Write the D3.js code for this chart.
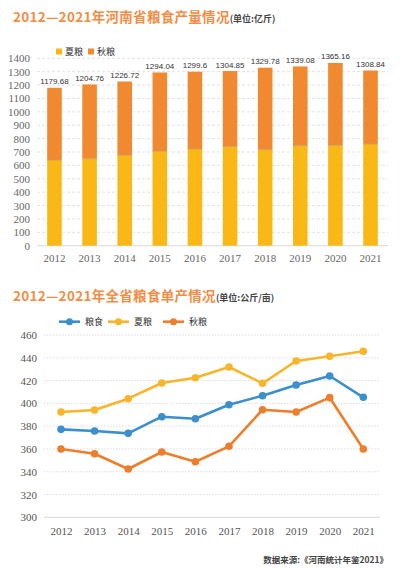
<!DOCTYPE html>
<html>
<head>
<meta charset="utf-8">
<script src="https://cdn.jsdelivr.net/npm/d3@7"></script>
<style>
  body { margin: 0; background: #fff; }
  svg { display: block; }
</style>
</head>
<body>
<svg id="chart" width="400" height="570"></svg>
<script>
// data
const years = ['2012', '2013', '2014', '2015', '2016', '2017', '2018', '2019', '2020', '2021'];
const totalOutput = [1179.68, 1204.76, 1226.72, 1294.04, 1299.6, 1304.85, 1329.78, 1339.08, 1365.16, 1308.84];
const summerOutput = [640, 650, 675, 705, 722, 741, 717, 747, 750, 760];
const barTicks = [0, 100, 200, 300, 400, 500, 600, 700, 800, 900, 1000, 1100, 1200, 1300, 1400];

const grainYield = [377.2, 375.7, 373.7, 388.3, 386.5, 398.8, 406.7, 416.1, 424, 405.3];
const summerYield = [392.4, 394.2, 404.1, 417.9, 422.5, 431.9, 417.6, 437.2, 441.3, 445.7];
const autumnYield = [360, 355.8, 342.4, 357.3, 348.8, 362.3, 394.4, 392.4, 405, 360];
const lineTicks = [300, 320, 340, 360, 380, 400, 420, 440, 460];

const YELLOW = '#f9b816', ORANGE = '#f0892f', BLUE = '#3a8fcc';
const LINE_Y = '#f8b52a', LINE_O = '#ef7e2c';
const svg = d3.select('#chart');
const cjk = '"Noto Sans CJK SC", "Noto Sans", sans-serif';
const serif = '"Liberation Serif", "DejaVu Serif", serif';

function title(y, main, unit) {
    const t = svg.append('text').attr('x', 13).attr('y', y)
        .attr('font-family', cjk).attr('font-weight', 'bold');
    t.append('tspan').attr('fill', '#f28d45').attr('font-size', 13.5).attr('letter-spacing', 0.3).text(main);
    t.append('tspan').attr('fill', '#444').attr('font-size', 9).text(unit);
}

// ---- bar chart ----
title(22, '2012—2021年河南省粮食产量情况', '(单位:亿斤)');

const x1 = d3.scaleBand().domain(years).range([37, 388]).paddingInner(0.585).paddingOuter(0.29);
const y1 = d3.scaleLinear().domain([0, 1400]).range([245.7, 58.3]);

const g1 = svg.append('g');
g1.selectAll('line.grid').data(barTicks.slice(1)).join('line')
    .attr('x1', 37).attr('x2', 388)
    .attr('y1', d => y1(d)).attr('y2', d => y1(d))
    .attr('stroke', '#d9d9d9').attr('stroke-dasharray', '3,2').attr('stroke-width', 0.8);
g1.append('line').attr('x1', 37).attr('x2', 388).attr('y1', y1(0)).attr('y2', y1(0))
    .attr('stroke', '#d9d9d9').attr('stroke-width', 1);

const yAxis1 = d3.axisLeft(y1).tickValues(barTicks).tickFormat(d3.format('d')).tickSize(0).tickPadding(0);
g1.append('g').attr('transform', 'translate(30,0)').call(yAxis1)
    .attr('font-family', serif)
    .call(s => s.select('.domain').remove())
    .selectAll('text').attr('font-size', 11).attr('fill', '#666');

const xAxis1 = d3.axisBottom(x1).tickSize(0).tickPadding(0);
g1.append('g').attr('transform', 'translate(0,254)').call(xAxis1)
    .attr('font-family', serif)
    .call(s => s.select('.domain').remove())
    .selectAll('text').attr('font-size', 11).attr('fill', '#666');

const bars = g1.selectAll('g.bar').data(years).join('g').attr('class', 'bar');
bars.append('rect')
    .attr('x', d => x1(d)).attr('width', x1.bandwidth())
    .attr('y', (d, i) => y1(summerOutput[i]))
    .attr('height', (d, i) => y1(0) - y1(summerOutput[i]))
    .attr('fill', YELLOW);
bars.append('rect')
    .attr('x', d => x1(d)).attr('width', x1.bandwidth())
    .attr('y', (d, i) => y1(totalOutput[i]))
    .attr('height', (d, i) => y1(summerOutput[i]) - y1(totalOutput[i]))
    .attr('fill', ORANGE);
bars.append('line')
    .attr('x1', d => x1(d)).attr('x2', d => x1(d) + x1.bandwidth())
    .attr('y1', (d, i) => y1(summerOutput[i])).attr('y2', (d, i) => y1(summerOutput[i]))
    .attr('stroke', '#c9a060').attr('stroke-width', 0.7);
bars.append('text')
    .attr('x', d => x1(d) + x1.bandwidth() / 2)
    .attr('y', (d, i) => y1(totalOutput[i]) - 3.5)
    .attr('text-anchor', 'middle').attr('font-family', '"Liberation Sans", Arial, sans-serif')
    .attr('font-size', 8).attr('fill', '#333')
    .text((d, i) => totalOutput[i]);

// legend
const leg1 = [['夏粮', YELLOW, 56], ['秋粮', ORANGE, 88]];
leg1.forEach(([name, c, lx]) => {
    svg.append('rect').attr('x', lx).attr('y', 48.5).attr('width', 6).attr('height', 6).attr('fill', c);
    svg.append('text').attr('x', lx + 9).attr('y', 55).attr('font-family', cjk)
        .attr('font-size', 9).attr('fill', '#333').text(name);
});

// ---- line chart ----
title(301, '2012—2021年全省粮食单产情况', '(单位:公斤/亩)');

const x2 = d3.scalePoint().domain(years).range([61, 363.3]);
const y2 = d3.scaleLinear().domain([300, 460]).range([517.3, 335]);

const g2 = svg.append('g');
g2.selectAll('line.grid').data(lineTicks.slice(1)).join('line')
    .attr('x1', 44).attr('x2', 380)
    .attr('y1', d => y2(d)).attr('y2', d => y2(d))
    .attr('stroke', '#d4d4d4').attr('stroke-dasharray', '1.5,1.5').attr('stroke-width', 0.8);
g2.append('line').attr('x1', 44).attr('x2', 380).attr('y1', y2(300)).attr('y2', y2(300))
    .attr('stroke', '#d9d9d9').attr('stroke-width', 1);

g2.append('g').attr('transform', 'translate(37,0)')
    .call(d3.axisLeft(y2).tickValues(lineTicks).tickSize(0).tickPadding(0))
    .attr('font-family', serif)
    .call(s => s.select('.domain').remove())
    .selectAll('text').attr('font-size', 11).attr('fill', '#555');

g2.append('g').attr('transform', 'translate(0,527)')
    .call(d3.axisBottom(x2).tickSize(0).tickPadding(0))
    .attr('font-family', serif)
    .call(s => s.select('.domain').remove())
    .selectAll('text').attr('font-size', 11).attr('fill', '#555');

const series = [
    { name: '粮食', values: grainYield, color: BLUE, lx: 59 },
    { name: '夏粮', values: summerYield, color: LINE_Y, lx: 108 },
    { name: '秋粮', values: autumnYield, color: LINE_O, lx: 163 }
];
const line = d3.line().x((d, i) => x2(years[i])).y(d => y2(d));

series.forEach(s => {
    g2.append('path').datum(s.values).attr('d', line)
        .attr('fill', 'none').attr('stroke', s.color).attr('stroke-width', 2.6)
        .attr('stroke-linejoin', 'round');
    g2.selectAll(null).data(s.values).join('circle')
        .attr('cx', (d, i) => x2(years[i])).attr('cy', d => y2(d))
        .attr('r', 3.8).attr('fill', s.color);
    // legend
    svg.append('line').attr('x1', s.lx).attr('x2', s.lx + 21)
        .attr('y1', 321.7).attr('y2', 321.7).attr('stroke', s.color).attr('stroke-width', 2.6);
    svg.append('circle').attr('cx', s.lx + 10.5).attr('cy', 321.7).attr('r', 3.5).attr('fill', s.color);
    svg.append('text').attr('x', s.lx + 26).attr('y', 325).attr('font-family', cjk)
        .attr('font-size', 9).attr('fill', '#333').text(s.name);
});

// source
svg.append('text').attr('x', 388).attr('y', 563).attr('text-anchor', 'end')
    .attr('font-family', cjk).attr('font-weight', 'bold').attr('font-size', 8.5)
    .attr('fill', '#444').text('数据来源:《河南统计年鉴2021》');
</script>
</body>
</html>
